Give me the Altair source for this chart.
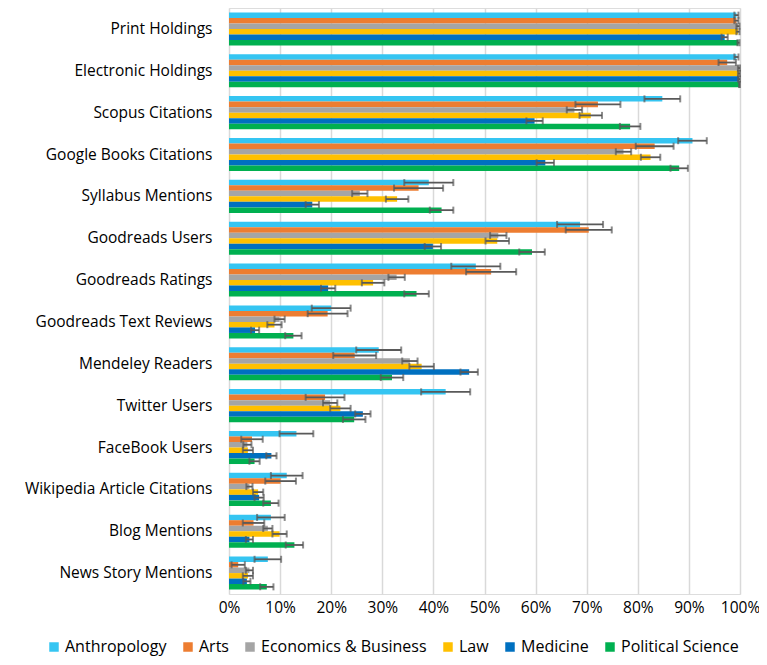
import altair as alt
import pandas as pd

categories = ["Print Holdings", "Electronic Holdings", "Scopus Citations", "Google Books Citations",
              "Syllabus Mentions", "Goodreads Users", "Goodreads Ratings", "Goodreads Text Reviews",
              "Mendeley Readers", "Twitter Users", "FaceBook Users", "Wikipedia Article Citations",
              "Blog Mentions", "News Story Mentions"]
series = ["Anthropology", "Arts", "Economics & Business", "Law", "Medicine", "Political Science"]
colors = ["#35C5F2", "#ED7D31", "#A5A5A5", "#FFC000", "#0070C0", "#00B050"]

anthropology = [99.3, 99.3, 84.8, 90.7, 39.1, 68.7, 48.3, 20.0, 29.3, 42.4, 13.2, 11.3, 8.2, 7.6]
anthropology_err = [0.4, 0.4, 3.5, 2.8, 4.8, 4.5, 4.8, 3.8, 4.4, 4.8, 3.3, 3.1, 2.7, 2.6]
arts = [99.3, 97.5, 72.2, 83.3, 37.1, 70.4, 51.3, 19.3, 24.6, 18.8, 4.5, 10.1, 4.8, 1.8]
arts_err = [0.4, 1.7, 4.4, 3.7, 4.8, 4.5, 4.9, 3.9, 4.2, 3.8, 2.1, 3.0, 2.1, 1.3]
econ = [99.6, 99.8, 67.6, 77.2, 25.6, 52.7, 32.8, 9.9, 35.4, 19.8, 3.6, 4.0, 7.6, 4.0]
econ_err = [0.3, 0.2, 1.5, 1.5, 1.5, 1.6, 1.6, 1.0, 1.5, 1.4, 0.8, 0.6, 0.9, 0.7]
law = [99.6, 99.8, 70.8, 82.5, 32.9, 52.5, 28.2, 8.9, 37.7, 21.8, 3.7, 5.7, 9.9, 3.7]
law_err = [0.3, 0.2, 2.2, 1.9, 2.2, 2.3, 2.2, 1.4, 2.4, 2.0, 1.0, 1.0, 1.4, 1.0]
medicine = [97.0, 99.8, 59.8, 61.9, 16.3, 39.9, 19.4, 5.1, 47.0, 26.2, 8.3, 5.9, 4.0, 3.5]
medicine_err = [0.6, 0.2, 1.6, 1.7, 1.3, 1.6, 1.4, 0.8, 1.7, 1.5, 1.0, 0.9, 0.7, 0.7]
polsci = [99.7, 99.9, 78.5, 88.1, 41.6, 59.3, 36.7, 12.6, 31.9, 24.5, 5.0, 8.2, 12.8, 7.4]
polsci_err = [0.2, 0.1, 2.0, 1.7, 2.3, 2.5, 2.4, 1.6, 2.2, 2.2, 1.0, 1.5, 1.7, 1.3]

values = [anthropology, arts, econ, law, medicine, polsci]
errors = [anthropology_err, arts_err, econ_err, law_err, medicine_err, polsci_err]

rows = []
for s, vals, errs in zip(series, values, errors):
    for c, v, e in zip(categories, vals, errs):
        rows.append({"category": c, "series": s, "value": v / 100,
                     "lo": (v - e) / 100, "hi": min(v + e, 100) / 100})
df = pd.DataFrame(rows)

FONT = "Open Sans"
ERR = "#595959"

base = alt.Chart(df).encode(
    y=alt.Y("category:N", sort=categories,
            scale=alt.Scale(paddingInner=0.21, paddingOuter=0.105),
            axis=alt.Axis(title=None, ticks=False, domain=False, labelFontSize=15.5,
                          labelFont=FONT, labelColor="#000000", labelPadding=17,
                          labelLimit=0)),
    yOffset=alt.YOffset("series:N", sort=series,
                        scale=alt.Scale(paddingInner=0, paddingOuter=0)),
)

bars = base.mark_bar().encode(
    x=alt.X("value:Q", scale=alt.Scale(domain=[0, 1]),
            axis=alt.Axis(title=None, format="%", values=[i / 10 for i in range(11)],
                          grid=True, gridColor="#D9D9D9", gridWidth=1.5, domain=False,
                          ticks=False, labelFontSize=15.5, labelFont=FONT,
                          labelColor="#000000", labelPadding=6, labelOverlap=False,
                          labelFlush=False)),
    color=alt.Color("series:N", sort=series,
                    scale=alt.Scale(domain=series, range=colors),
                    legend=alt.Legend(title=None, orient="none", direction="horizontal",
                                      legendX=-183, legendY=631, symbolType="square",
                                      symbolSize=90, symbolStrokeWidth=0,
                                      labelFontSize=16, labelFont=FONT, labelLimit=0,
                                      labelColor="#000000", columnPadding=13,
                                      labelOffset=3)),
)

rules = base.mark_rule(color=ERR, strokeWidth=1.8).encode(x="lo:Q", x2="hi:Q")
tick_lo = base.mark_tick(color=ERR, thickness=2, size=7).encode(x="lo:Q")
tick_hi = base.mark_tick(color=ERR, thickness=2, size=7).encode(x="hi:Q")

chart = alt.layer(bars, rules, tick_lo, tick_hi).properties(
    width=511, height=586,
    autosize=alt.AutoSizeParams(type="none"),
    padding={"left": 221, "top": 0, "right": 19, "bottom": 63},
).configure_view(stroke=None).configure(background="white")

chart.save("out.html", embed_options={"renderer": "svg", "actions": False})
